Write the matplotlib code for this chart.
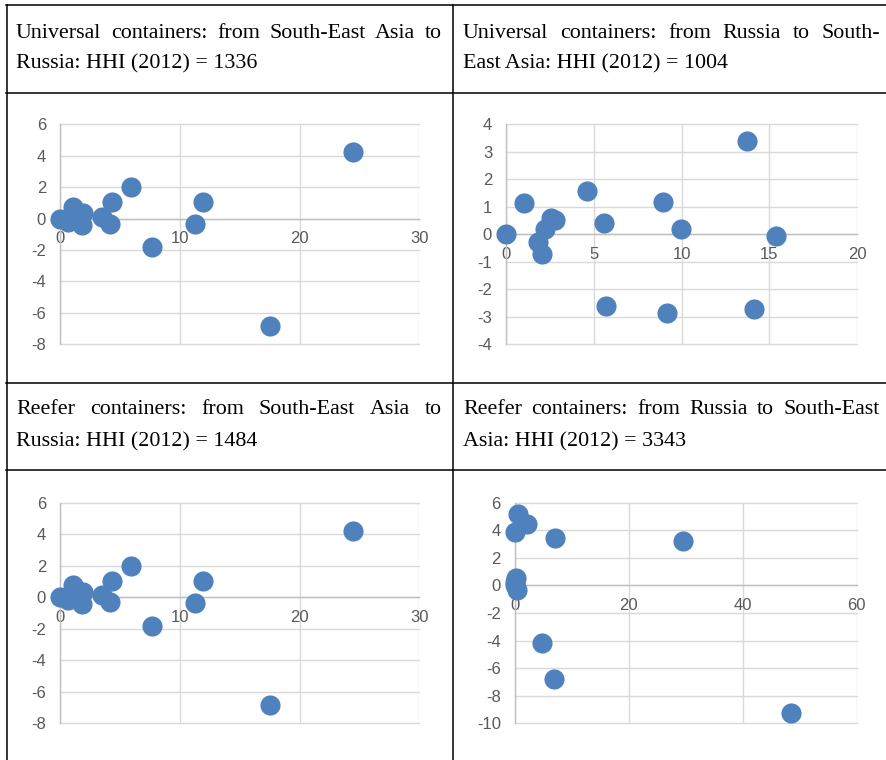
import matplotlib
matplotlib.use("Agg")
import matplotlib.pyplot as plt
import numpy as np
from matplotlib.lines import Line2D

W, H = 886, 760

# --- data ---
# universal containers, South-East Asia -> Russia (same points in the reefer panel)
sea_ru_x = [0.0, 0.7, 1.1, 1.5, 1.95, 1.8, 3.48, 4.17, 4.31, 5.9, 7.71, 11.27, 11.94, 17.5, 24.46]
sea_ru_y = [0.0, -0.2, 0.76, 0.25, 0.34, -0.4, 0.13, -0.33, 1.06, 2.0, -1.8, -0.36, 1.04, -6.81, 4.22]

# universal containers, Russia -> South-East Asia
ru_sea_x = [0.0, 1.02, 4.61, 2.56, 2.81, 2.24, 1.82, 2.05, 5.56, 8.92, 9.94, 13.74, 15.37, 5.67, 9.15, 14.12]
ru_sea_y = [0.0, 1.15, 1.59, 0.58, 0.52, 0.19, -0.27, -0.70, 0.42, 1.16, 0.19, 3.39, -0.07, -2.62, -2.85, -2.72]

# reefer containers, South-East Asia -> Russia
reef_sea_ru_x = list(sea_ru_x)
reef_sea_ru_y = list(sea_ru_y)

# reefer containers, Russia -> South-East Asia
reef_ru_sea_x = [0.53, 2.22, 0.0, 7.08, 29.5, 0.23, 0.05, 0.0, 0.47, 4.8, 6.96, 48.5]
reef_ru_sea_y = [5.15, 4.45, 3.89, 3.46, 3.21, 0.56, 0.25, 0.05, -0.34, -4.16, -6.82, -9.23]

headers = [
    ["Universal containers: from South-East Asia to", "Russia: HHI (2012) = 1336"],
    ["Universal containers: from Russia to South-", "East Asia: HHI (2012) = 1004"],
    ["Reefer containers: from South-East Asia to", "Russia: HHI (2012) = 1484"],
    ["Reefer containers: from Russia to South-East", "Asia: HHI (2012) = 3343"],
]

BLUE = "#4f81bd"
GRID = "#d9d9d9"
AXIS = "#bfbfbf"
TICK = "#595959"

fig = plt.figure(figsize=(W / 100, H / 100), dpi=100, facecolor="white")
renderer = fig.canvas.get_renderer()


def fx(px):
    return px / W


def fy(py):
    return 1 - py / H


# table borders
for y in [5, 92.5, 382.5, 470]:
    fig.add_artist(Line2D([fx(6), fx(886)], [fy(y), fy(y)], color="black", lw=1.1))
for x in [6.5, 452.5]:
    fig.add_artist(Line2D([fx(x), fx(x)], [fy(5), fy(760)], color="black", lw=1.1))


def justified(words_line, x0, x1, y, justify):
    words = words_line.split(" ")
    kw = dict(fontsize=15.8, family="Liberation Serif", va="center", ha="left", color="black")
    if not justify:
        fig.text(fx(x0), fy(y), words_line, **kw)
        return
    arts = [fig.text(0, fy(y), w, **kw) for w in words]
    widths = [a.get_window_extent(renderer).width for a in arts]
    gap = (x1 - x0 - sum(widths)) / (len(words) - 1)
    cur = x0
    for a, w in zip(arts, widths):
        a.set_x(fx(cur))
        cur += w + gap


cells = [(16, 442, 33, 64), (463, 880, 33, 64), (16, 442, 410, 442), (463, 880, 410, 442)]
for (x0, x1, y1, y2), lines in zip(cells, headers):
    justified(lines[0], x0, x1, y1, True)
    justified(lines[1], x0, x1, y2, False)


def panel(x0, x1, ytop, ybot, xs, ys, xmax, xstep, ymin, ymax, ystep):
    ax = fig.add_axes([fx(x0), fy(ybot), fx(x1 - x0), (ybot - ytop) / H])
    ax.set_xlim(0, xmax)
    ax.set_ylim(ymin, ymax)
    ax.set_xticks(np.arange(0, xmax + 0.1, xstep))
    ax.set_yticks(np.arange(ymin, ymax + 0.1, ystep))
    ax.grid(True, color=GRID, lw=1.0)
    for gl in ax.get_xgridlines() + ax.get_ygridlines():
        gl.set_clip_on(False)
    ax.set_axisbelow(True)
    for s in ["top", "right"]:
        ax.spines[s].set_visible(False)
    ax.spines["bottom"].set_position(("data", 0))
    ax.spines["bottom"].set_color(AXIS)
    ax.spines["left"].set_color(AXIS)
    ax.spines["bottom"].set_linewidth(1.0)
    ax.spines["left"].set_linewidth(1.0)
    ax.tick_params(length=0, labelcolor=TICK, labelsize=12)
    ax.tick_params(axis="x", pad=9)
    ax.tick_params(axis="y", pad=10)
    ax.set_xticklabels([f"{v:g}" for v in ax.get_xticks()], family="Liberation Sans")
    ax.set_yticklabels([f"{v:g}" for v in ax.get_yticks()], family="Liberation Sans")
    ax.scatter(xs, ys, s=210, color=BLUE, zorder=3, clip_on=False, linewidths=0)
    return ax


panel(60, 419.3, 124.3, 344.3, sea_ru_x, sea_ru_y, 30, 10, -8, 6, 2)
panel(506, 857.3, 124.3, 344.3, ru_sea_x, ru_sea_y, 20, 5, -4, 4, 1)
panel(60, 419.3, 502.7, 723.3, reef_sea_ru_x, reef_sea_ru_y, 30, 10, -8, 6, 2)
panel(514.7, 856.7, 502.7, 723.3, reef_ru_sea_x, reef_ru_sea_y, 60, 20, -10, 6, 2)

fig.savefig("out.png", dpi=100, facecolor="white")
